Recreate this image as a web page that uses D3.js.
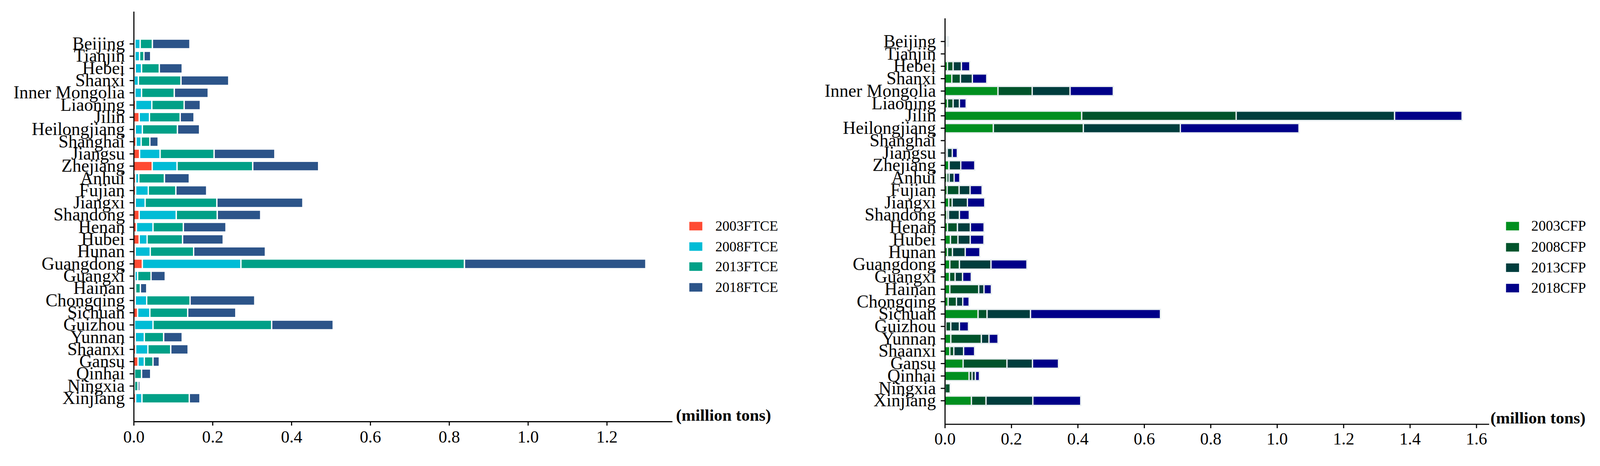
<!DOCTYPE html>
<html><head><meta charset="utf-8">
<script src="https://cdn.jsdelivr.net/npm/d3@7"></script>
<style>
html,body{margin:0;padding:0;background:#fff;overflow:hidden}
svg{display:block;width:100vw;height:100vh}
text{font-family:"Liberation Serif","Times New Roman",serif;fill:#000}
</style></head>
<body><svg id="c" viewBox="0 0 4308 1194" preserveAspectRatio="xMidYMid meet"></svg>
<script>
const provinces = ["Beijing","Tianjin","Hebei","Shanxi","Inner Mongolia","Liaoning","Jilin","Heilongjiang","Shanghai","Jiangsu","Zhejiang","Anhui","Fujian","Jiangxi","Shandong","Henan","Hubei","Hunan","Guangdong","Guangxi","Hainan","Chongqing","Sichuan","Guizhou","Yunnan","Shaanxi","Gansu","Qinhai","Ningxia","Xinjiang"];

const ftceLabels = ["2003FTCE","2008FTCE","2013FTCE","2018FTCE"];
const ftce2003 = [0.003,0.003,0.004,0.001,0.003,0.005,0.014,0.004,0.006,0.015,0.047,0.005,0.005,0.004,0.014,0.007,0.014,0.004,0.022,0.003,0.002,0.004,0.010,0.002,0.004,0.005,0.011,0.001,0.001,0.005];
const ftce2008 = [0.0135,0.012,0.016,0.011,0.017,0.041,0.026,0.018,0.013,0.052,0.063,0.008,0.032,0.025,0.094,0.042,0.020,0.038,0.250,0.007,0.003,0.029,0.031,0.047,0.023,0.031,0.016,0.001,0.001,0.016];
const ftce2013 = [0.031,0.011,0.045,0.108,0.083,0.082,0.078,0.089,0.022,0.137,0.192,0.065,0.070,0.182,0.104,0.077,0.090,0.110,0.567,0.034,0.012,0.110,0.096,0.301,0.049,0.058,0.022,0.018,0.009,0.120];
const ftce2018 = [0.095,0.017,0.058,0.121,0.086,0.041,0.035,0.056,0.021,0.154,0.167,0.063,0.078,0.218,0.110,0.108,0.103,0.182,0.460,0.036,0.016,0.164,0.122,0.156,0.047,0.044,0.016,0.023,0.005,0.027];

const cfpLabels = ["2003CFP","2008CFP","2013CFP","2018CFP"];
const cfp2003 = [0.003,0,0.008,0.021,0.160,0.008,0.412,0.146,0,0.003,0.012,0.006,0.007,0.012,0.006,0.008,0.017,0.008,0.015,0.014,0.015,0.010,0.100,0.003,0.018,0.015,0.055,0.073,0.001,0.080];
const cfp2008 = [0.003,0,0.017,0.026,0.103,0.017,0.465,0.271,0,0.0045,0.001,0.007,0.036,0.010,0.005,0.030,0.0225,0.015,0.029,0.017,0.087,0.025,0.027,0.015,0.092,0.012,0.132,0.009,0.015,0.044];
const cfp2013 = [0.003,0,0.025,0.036,0.114,0.019,0.477,0.292,0,0.015,0.035,0.015,0.033,0.046,0.033,0.039,0.037,0.0385,0.095,0.0225,0.016,0.019,0.131,0.026,0.023,0.0295,0.077,0.010,0,0.141];
const cfp2018 = [0.002,0,0.025,0.043,0.130,0.020,0.203,0.357,0,0.015,0.042,0.017,0.036,0.052,0.0295,0.041,0.041,0.044,0.108,0.026,0.022,0.019,0.391,0.027,0.027,0.033,0.078,0.012,0,0.144];

const ftceTicks = [0,0.2,0.4,0.6,0.8,1.0,1.2];
const cfpTicks = [0,0.2,0.4,0.6,0.8,1.0,1.2,1.4,1.6];
const unitLabel = "(million tons)";

const svg = d3.select("#c");

function panel(o){
  const keys = ["a","b","c","d"];
  const rows = provinces.map((p,i)=>({p, a:o.s[0][i], b:o.s[1][i], c:o.s[2][i], d:o.s[3][i]}));
  const x = d3.scaleLinear().domain([0,o.xmax]).range([o.x0,o.x1]);
  const y = d3.scaleBand().domain(provinces).range([o.yTop,o.yBot])
    .paddingInner(o.pi).paddingOuter(o.po).align(o.al);
  const stack = d3.stack().keys(keys)(rows);
  const g = svg.append("g");
  g.selectAll("g.s").data(stack).join("g").attr("fill",(d,i)=>o.colors[i])
    .selectAll("rect").data(d=>d).join("rect")
    .attr("x",d=>x(d[0])).attr("width",d=>Math.max(0,x(d[1])-x(d[0])))
    .attr("y",d=>y(d.data.p)).attr("height",y.bandwidth())
    .attr("stroke",o.edge).attr("stroke-width",o.sw);
  const ya = g.append("g").attr("transform",`translate(${o.x0},0)`)
    .call(d3.axisLeft(y).tickSize(11).tickSizeOuter(0).tickPadding(13));
  ya.selectAll("text").attr("font-size",48).style("font-family",'"Liberation Serif",serif');
  const xa = g.append("g").attr("transform",`translate(0,${o.yBot})`)
    .call(d3.axisBottom(x).tickValues(o.ticks).tickFormat(d3.format(".1f")).tickSize(11).tickSizeOuter(0).tickPadding(o.tp));
  xa.selectAll("text").attr("font-size",46).style("font-family",'"Liberation Serif",serif');
  [ya,xa].forEach(a=>{a.select(".domain").attr("stroke","#000").attr("stroke-width",3);
    a.selectAll(".tick line").attr("stroke","#000").attr("stroke-width",3);});
  g.append("text").attr("x",o.ux).attr("y",o.uy).attr("font-size",45).attr("font-weight","bold").text(unitLabel);
  const lg = g.append("g");
  o.labels.forEach((l,i)=>{
    lg.append("rect").attr("x",o.lx).attr("y",o.ly[i]).attr("width",35).attr("height",23).attr("fill",o.colors[i]);
    lg.append("text").attr("x",o.tx).attr("y",o.ly[i]+24).attr("font-size",o.lfs).text(l);
  });
}

panel({s:[ftce2003,ftce2008,ftce2013,ftce2018], labels:ftceLabels,
  colors:["#FF4B33","#00BCD6","#00A087","#2C5489"], edge:"#fff", sw:3.5,
  x0:360, x1:1810, xmax:1.366, yTop:0, yBot:1105, pi:0.21, po:1.885, al:0.6, ticks:ftceTicks, tp:13,
  ux:1820, uy:1103, lx:1856, tx:1926, ly:[567,622,676,732], lfs:38});

panel({s:[cfp2003,cfp2008,cfp2013,cfp2018], labels:cfpLabels,
  colors:["#008F1F","#00532B","#003D3D","#000088"], edge:"#e8eef0", sw:3.5,
  x0:2544, x1:4009, xmax:1.638, yTop:18, yBot:1112, pi:0.25, po:1.51, al:0.5, ticks:cfpTicks, tp:11,
  ux:4013, uy:1110, lx:4055, tx:4123, ly:[567,624,679,734], lfs:39});
</script></body></html>
